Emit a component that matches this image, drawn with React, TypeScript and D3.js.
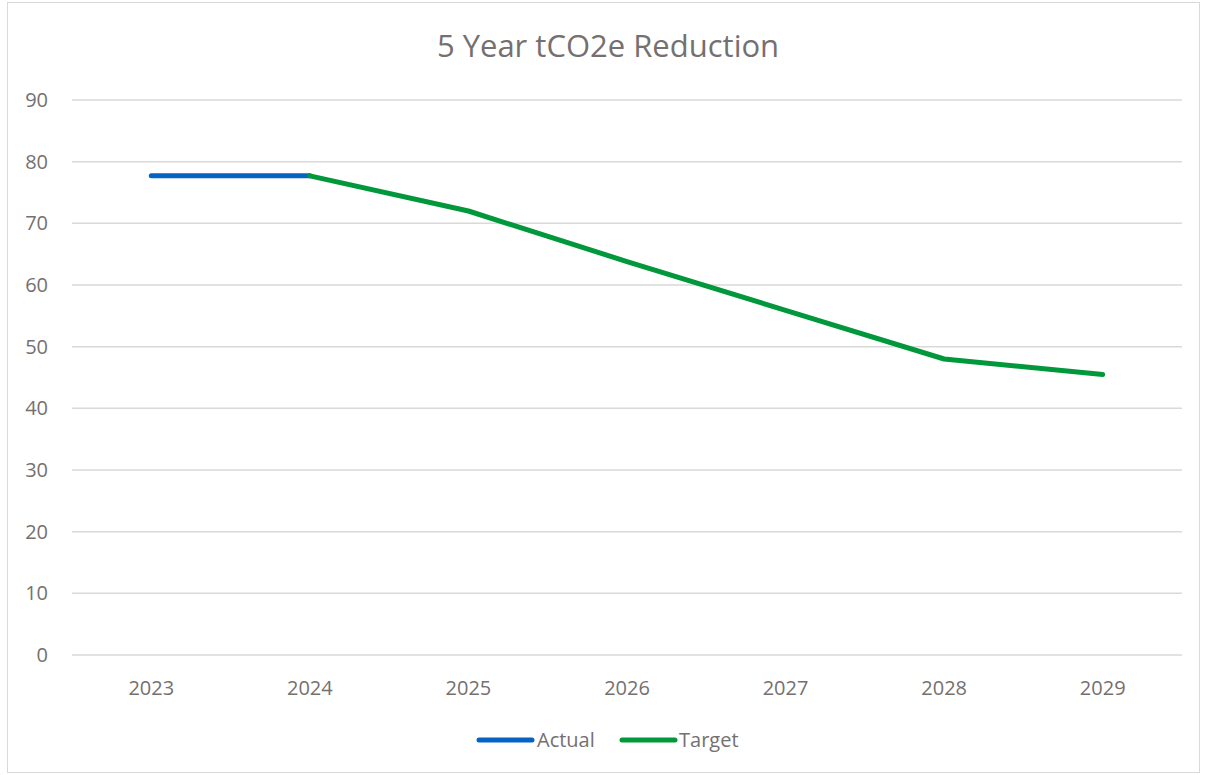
import React from "react";
import * as d3 from "d3";

const years = ["2023", "2024", "2025", "2026", "2027", "2028", "2029"];
const actualYears = ["2023", "2024"];
const actualValues = [77.7, 77.7];
const targetYears = ["2024", "2025", "2026", "2027", "2028", "2029"];
const targetValues = [77.7, 72, 63.8, 55.9, 48, 45.5];
const yTicks = [0, 10, 20, 30, 40, 50, 60, 70, 80, 90];

const width = 1205;
const height = 775;
const left = 72;
const right = 1182;
const top = 100;
const bottom = 655;
const textColor = "#757070";
const font = "'Open Sans', 'Noto Sans', sans-serif";

export default function App() {
  const x = d3.scaleBand().domain(years).range([left, right]);
  const y = d3.scaleLinear().domain([0, 90]).range([bottom, top]);
  const cx = (d: string) => (x(d) as number) + x.bandwidth() / 2;

  const lineGen = d3
    .line<[string, number]>()
    .x((d) => cx(d[0]))
    .y((d) => y(d[1]));

  const actual = d3.zip(actualYears, actualValues) as [string, number][];
  const target = d3.zip(targetYears, targetValues) as [string, number][];

  return (
    <svg
      width={width}
      height={height}
      style={{ position: "absolute", left: 0, top: 0, background: "#fff" }}
    >
      <rect x={7.5} y={2.5} width={1192} height={770} fill="#fff" stroke="#d9d9d9" />
      <text
        x={608}
        y={57}
        textAnchor="middle"
        fontFamily={font}
        fontSize={31}
        fill={textColor}
      >
        5 Year tCO2e Reduction
      </text>
      {yTicks.map((t) => (
        <g key={t}>
          <line x1={left} x2={right} y1={y(t)} y2={y(t)} stroke="#d9d9d9" strokeWidth={1.5} />
          <text
            x={48}
            y={y(t)}
            dy="0.35em"
            textAnchor="end"
            fontFamily={font}
            fontSize={20}
            fill={textColor}
          >
            {t}
          </text>
        </g>
      ))}
      {years.map((yr) => (
        <text
          key={yr}
          x={cx(yr)}
          y={695}
          textAnchor="middle"
          fontFamily={font}
          fontSize={20}
          fill={textColor}
        >
          {yr}
        </text>
      ))}
      <path d={lineGen(actual) || ""} fill="none" stroke="#0563c1" strokeWidth={5} strokeLinecap="round" strokeLinejoin="round" />
      <path d={lineGen(target) || ""} fill="none" stroke="#00983a" strokeWidth={5} strokeLinecap="round" strokeLinejoin="round" />
      <g fontFamily={font} fontSize={20} fill={textColor}>
        <line x1={479} x2={532} y1={740} y2={740} stroke="#0563c1" strokeWidth={5} strokeLinecap="round" />
        <text x={537} y={747}>Actual</text>
        <line x1={622} x2={675} y1={740} y2={740} stroke="#00983a" strokeWidth={5} strokeLinecap="round" />
        <text x={679} y={747}>Target</text>
      </g>
    </svg>
  );
}
